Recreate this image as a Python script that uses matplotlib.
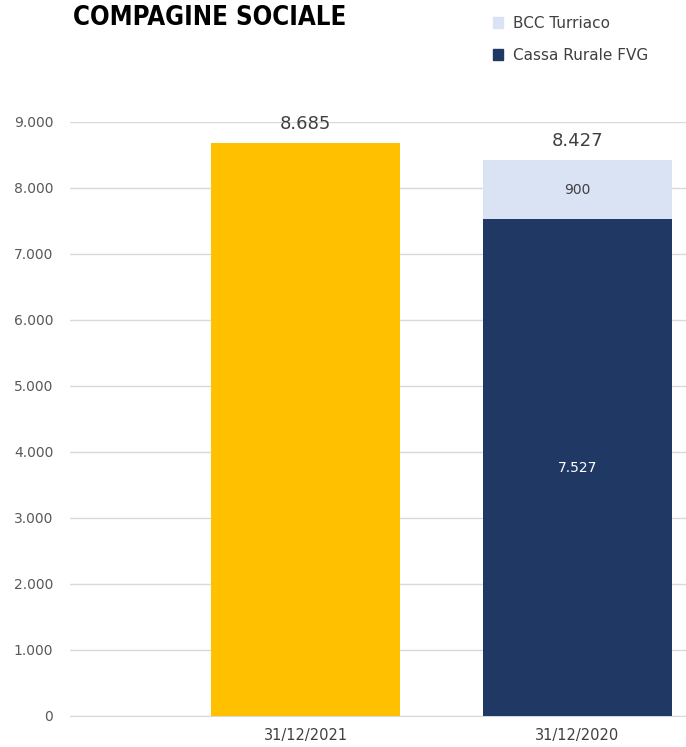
import matplotlib
matplotlib.use("Agg")
import matplotlib.pyplot as plt
import numpy as np
from matplotlib.patches import Patch

categories = ["31/12/2021", "31/12/2020"]
cassa_rurale = [8685, 7527]
bcc_turriaco = [0, 900]
bar_colors_main = ["#FFC000", "#203864"]
totals = [8685, 8427]
yticks = [0, 1000, 2000, 3000, 4000, 5000, 6000, 7000, 8000, 9000]

def fmt(v):
    return f"{v:,}".replace(",", ".")

plt.rcParams['font.family'] = ['DejaVu Sans']
fig = plt.figure(figsize=(6.86, 7.47), dpi=100)
ax = fig.add_axes([0.102, 0.0415, 0.898, 0.7952])

x = np.arange(len(categories))
w = 0.695
ax.bar(x, cassa_rurale, width=w, color=bar_colors_main, zorder=3)
ax.bar(x, bcc_turriaco, width=w, bottom=cassa_rurale, color="#DAE3F3", zorder=3)

ax.set_ylim(0, 9000)
ax.set_xlim(-0.866, 1.399)
ax.set_yticks(yticks)
ax.set_yticklabels([fmt(v) for v in yticks], color="#595959", fontsize=10)
ax.set_xticks(x)
ax.set_xticklabels(categories, color="#404040", fontsize=10.5)
ax.tick_params(axis='both', length=0)
ax.tick_params(axis='y', pad=12)
ax.tick_params(axis='x', pad=9)
ax.grid(axis='y', color="#D9D9D9", linewidth=1, zorder=0)
for s in ["top", "right", "left"]:
    ax.spines[s].set_visible(False)
ax.spines["bottom"].set_color("#D9D9D9")

# total labels
for i, t in enumerate(totals):
    ax.annotate(fmt(t), (x[i], t), xytext=(0, 7), textcoords="offset points",
                ha="center", va="bottom", fontsize=13, color="#404040")
# segment labels for 2020
ax.text(x[1], cassa_rurale[1] / 2, fmt(cassa_rurale[1]), ha="center", va="center",
        color="white", fontsize=10)
ax.text(x[1], cassa_rurale[1] + bcc_turriaco[1] / 2, fmt(bcc_turriaco[1]), ha="center",
        va="center", color="#404040", fontsize=10)

fig.text(73 / 686, 1 - 18 / 747, "COMPAGINE SOCIALE", fontsize=18.5, fontweight="bold",
         fontstretch="condensed", ha="left", va="center", color="black")

# legend
handles = [Patch(color="#DAE3F3", label="BCC Turriaco"),
           Patch(color="#203864", label="Cassa Rurale FVG")]
leg = fig.legend(handles=handles, loc="upper left", bbox_to_anchor=(479 / 686, 1 - 2 / 747),
                 frameon=False, fontsize=11, labelcolor="#404040", handlelength=0.7,
                 handleheight=0.7, handletextpad=0.6, labelspacing=1.1)

fig.savefig("out.png", dpi=100)
